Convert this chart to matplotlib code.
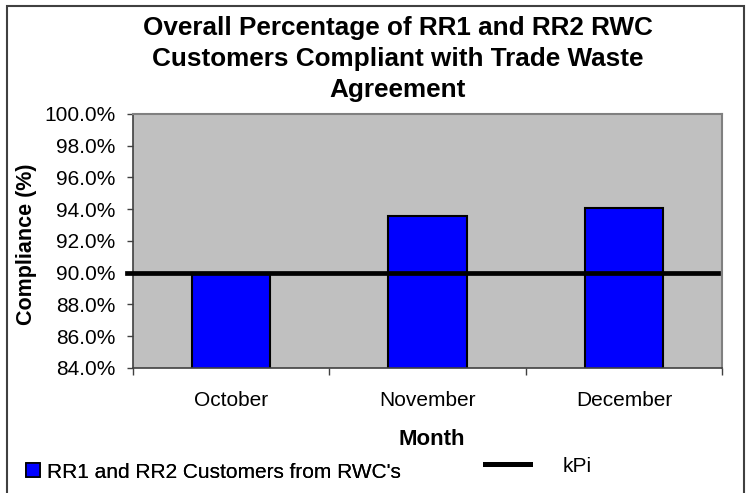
import matplotlib
matplotlib.use("Agg")
import matplotlib.pyplot as plt
from matplotlib.patches import Patch, Rectangle
from matplotlib.lines import Line2D
from matplotlib.ticker import FuncFormatter

months = ["October", "November", "December"]
compliance = [90.0, 93.57, 94.09]
kpi = 90.0
y_ticks = [84, 86, 88, 90, 92, 94, 96, 98, 100]

title = "Overall Percentage of RR1 and RR2 RWC\nCustomers Compliant with Trade Waste\nAgreement"
bar_label = "RR1 and RR2 Customers from RWC's"
kpi_label = "kPi"

plt.rcParams["font.family"] = ["Liberation Sans", "DejaVu Sans"]

fig = plt.figure(figsize=(7.46, 4.93), dpi=100)
ax = fig.add_axes([0.178, 0.254, 0.79, 0.515])

x = list(range(len(months)))
ax.bar(x, compliance, width=0.4, color="#0000FF", edgecolor="black", linewidth=1.5, zorder=2)
ax.axhline(kpi, xmin=-0.0097, xmax=0.9927, color="black", linewidth=3.4, clip_on=False, zorder=3)

ax.set_facecolor("#C0C0C0")
ax.set_xlim(-0.5, len(months) - 0.5)
ax.set_ylim(y_ticks[0], y_ticks[-1])
ax.set_yticks(y_ticks)
ax.yaxis.set_major_formatter(FuncFormatter(lambda v, p: f"{v:.1f}%"))
ax.set_xticks(x)
ax.set_xticklabels(months)
ax.set_xticks([i + 0.5 for i in range(-1, len(months))], minor=True)

ax.tick_params(axis="y", length=6 / 1.39, width=1, color="#404040", pad=8.4, labelsize=15)
ax.tick_params(axis="x", which="major", length=0, pad=17, labelsize=15)
ax.tick_params(axis="x", which="minor", length=7 / 1.39, width=1, color="#404040")

for side in ["top", "right"]:
    ax.spines[side].set_color("#808080")
    ax.spines[side].set_linewidth(1.5)
for side in ["left", "bottom"]:
    ax.spines[side].set_color("#404040")
    ax.spines[side].set_linewidth(1.2)

ax.set_xlabel("Month", fontsize=16, fontweight="bold", va="center")
ax.xaxis.set_label_coords(0.507, -0.283)
ax.set_ylabel("Compliance (%)", fontsize=15.5, fontweight="bold", va="center")
ax.yaxis.set_label_coords(-0.181, 0.488)

fig.text(398 / 746, 1 - 59 / 493, title, ha="center", va="center",
         fontsize=18.8, fontweight="bold", linespacing=1.36)

bar_handle = Patch(facecolor="#0000FF", edgecolor="black", linewidth=1.2)
leg1 = fig.legend([bar_handle], [bar_label], loc="center left",
                  bbox_to_anchor=(26 / 746, 1 - 472 / 493), frameon=False,
                  fontsize=15, handlelength=0.67, handleheight=0.67,
                  handletextpad=0.33, borderpad=0, borderaxespad=0)
kpi_handle = Line2D([], [], color="black", linewidth=3.6)
fig.legend([kpi_handle], [kpi_label], loc="center left",
           bbox_to_anchor=(485 / 746, 1 - 466 / 493), frameon=False,
           fontsize=15, handlelength=2.15, handletextpad=1.6,
           borderpad=0, borderaxespad=0)
fig.add_artist(leg1)

# outer chart border, cut off at the bottom like the original
fig.patches.append(Rectangle((6.5 / 746, -0.05), (744 - 6.5) / 746, 1 - 5.5 / 493 + 0.05,
                             transform=fig.transFigure, fill=False,
                             edgecolor="#404040", linewidth=1.5))

fig.savefig("out.png", dpi=100)
